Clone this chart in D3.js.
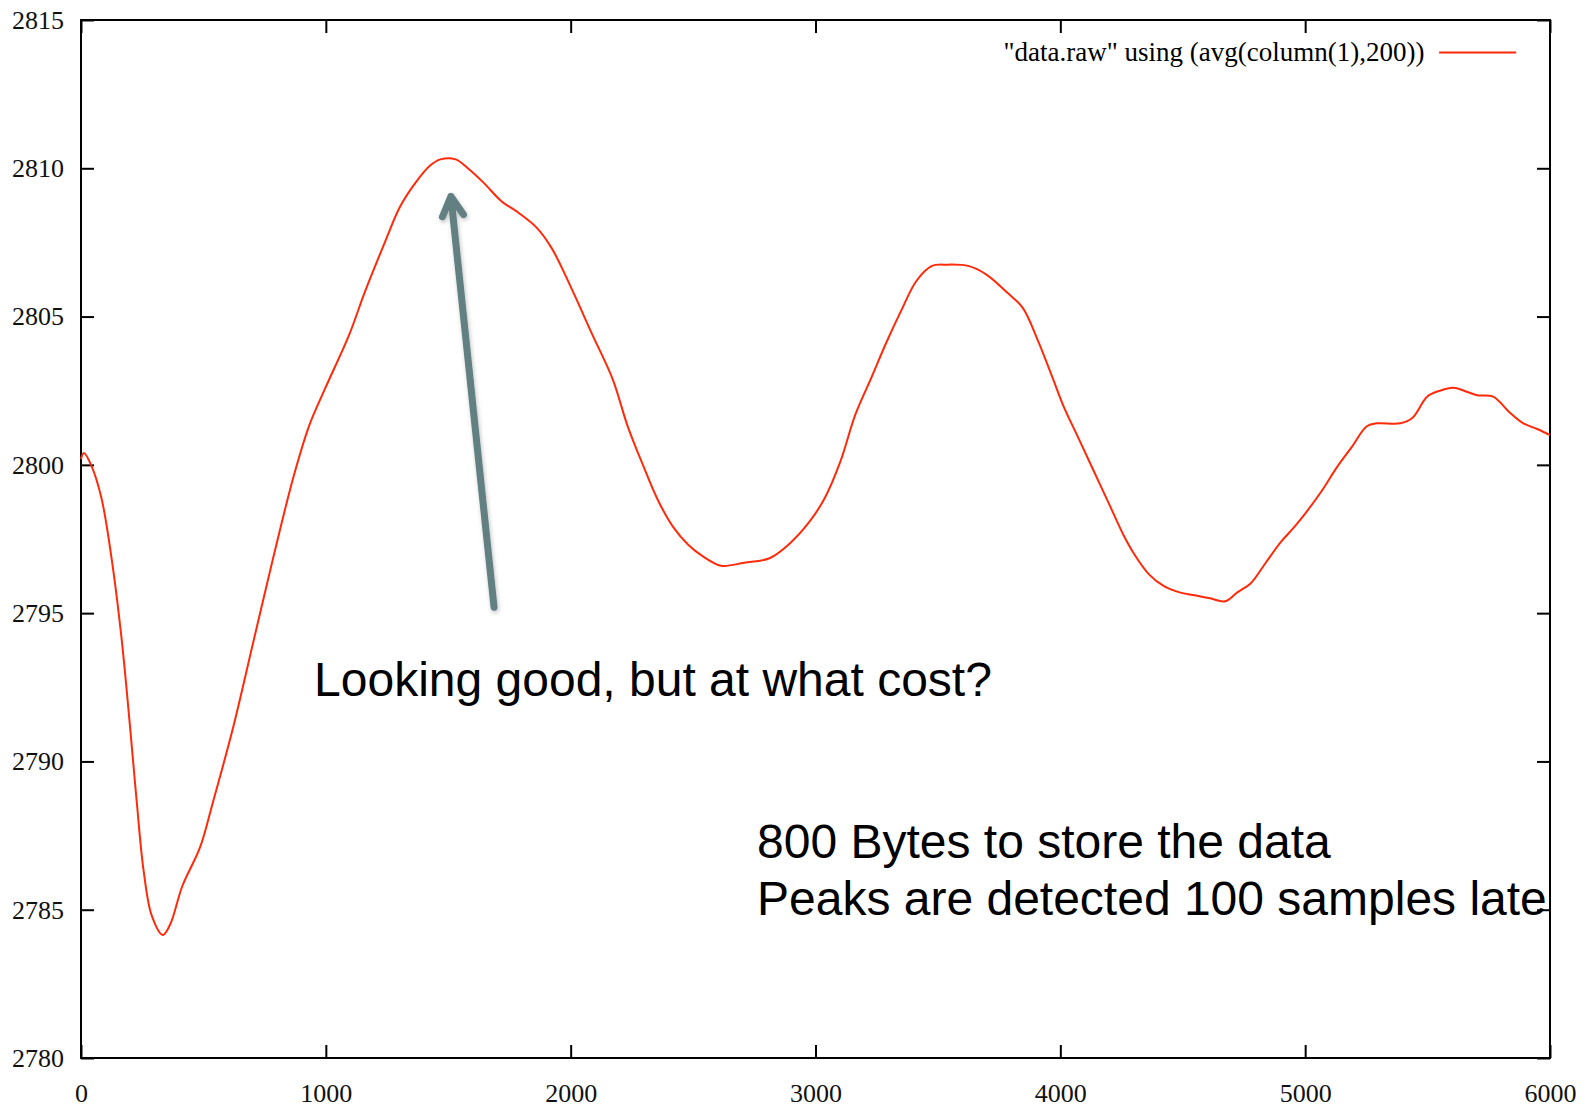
<!DOCTYPE html>
<html>
<head>
<meta charset="utf-8">
<script src="https://cdn.jsdelivr.net/npm/d3@7"></script>
<style>
  body { margin: 0; background: #fff; }
  svg { display: block; }
  .tick text { font-family: "Liberation Serif", "Times New Roman", serif; font-size: 26px; fill: #111; }
  .note { font-family: "Liberation Sans", Arial, Helvetica, sans-serif; font-size: 48px; fill: #000; }
</style>
</head>
<body>
<svg id="chart"></svg>
<script>
// sample index (x) and moving-average value (y)
const sampleX = [0, 12, 41, 83, 124, 165, 200, 227, 256, 289, 334, 364, 414, 486, 538, 620, 703, 786, 868, 931, 993,
  1096, 1158, 1241, 1303, 1365, 1427, 1468, 1530, 1580, 1646, 1716, 1787, 1861, 1923, 2006, 2088, 2171, 2233, 2295,
  2357, 2419, 2481, 2543, 2614, 2709, 2812, 2895, 2977, 3039, 3101, 3163, 3226, 3288, 3350, 3412, 3474, 3536, 3627,
  3701, 3784, 3846, 3908, 3970, 4012, 4074, 4136, 4198, 4260, 4301, 4363, 4425, 4487, 4549, 4611, 4673, 4723, 4777,
  4839, 4901, 4955, 5004, 5066, 5128, 5190, 5252, 5294, 5388, 5440, 5498, 5550, 5605, 5666, 5702, 5768, 5831, 5891, 5950, 6000];
const avgValue = [2800.2, 2800.4, 2800.0, 2798.9, 2796.9, 2794.2, 2791.2, 2788.7, 2786.3, 2784.8, 2784.15, 2784.5, 2785.8,
  2787.1, 2788.6, 2791.1, 2794.0, 2796.9, 2799.6, 2801.3, 2802.5,
  2804.4, 2805.8, 2807.5, 2808.7, 2809.5, 2810.1, 2810.3, 2810.3, 2810.0, 2809.5, 2808.9, 2808.5, 2808.0, 2807.3,
  2805.9, 2804.4, 2802.9, 2801.3, 2800.0,
  2798.8, 2797.9, 2797.3, 2796.9, 2796.6, 2796.7, 2796.85, 2797.35, 2798.1, 2798.9, 2800.1, 2801.7, 2802.9, 2804.1,
  2805.2, 2806.2, 2806.7, 2806.75, 2806.7,
  2806.4, 2805.8, 2805.3, 2804.2, 2802.9, 2802.0, 2800.9, 2799.8, 2798.7, 2797.6, 2797.0, 2796.3, 2795.9, 2795.7,
  2795.6, 2795.5, 2795.4, 2795.7, 2796.0,
  2796.7, 2797.4, 2797.9, 2798.4, 2799.1, 2799.9, 2800.6, 2801.3, 2801.4, 2801.4, 2801.6, 2802.3, 2802.5, 2802.6,
  2802.45, 2802.35, 2802.3, 2801.8, 2801.4, 2801.2, 2801.0];

const xTicks = [0, 1000, 2000, 3000, 4000, 5000, 6000];
const yTicks = [2780, 2785, 2790, 2795, 2800, 2805, 2810, 2815];
const legendLabel = '"data.raw" using (avg(column(1),200))';
const arrowNote = "Looking good, but at what cost?";
const costNotes = ["800 Bytes to store the data", "Peaks are detected 100 samples late"];

const width = 1587, height = 1108;
const margin = { top: 20, right: 37, bottom: 50, left: 81 };
const lineColor = "#ff2a0a";
const arrowColor = "#627f82";

const svg = d3.select("#chart").attr("width", width).attr("height", height);

const x = d3.scaleLinear().domain([0, 6000]).range([margin.left, width - margin.right]);
const y = d3.scaleLinear().domain([2780, 2815]).range([height - margin.bottom, margin.top]);

// inward ticks on all four sides, labels only left/bottom
const tickLen = 13;
svg.append("g")
  .attr("transform", `translate(0,${y(2780)})`)
  .call(d3.axisBottom(x).tickValues(xTicks).tickSize(-tickLen).tickPadding(26).tickFormat(d3.format("d")));
svg.append("g")
  .attr("transform", `translate(0,${y(2815)})`)
  .call(d3.axisTop(x).tickValues(xTicks).tickSize(-tickLen).tickFormat(""));
svg.append("g")
  .attr("transform", `translate(${x(0)},0)`)
  .call(d3.axisLeft(y).tickValues(yTicks).tickSize(-tickLen).tickPadding(17).tickFormat(d3.format("d")));
svg.append("g")
  .attr("transform", `translate(${x(6000)},0)`)
  .call(d3.axisRight(y).tickValues(yTicks).tickSize(-tickLen).tickFormat(""));

svg.selectAll(".domain").remove();
svg.selectAll(".tick line").attr("stroke", "#000").attr("stroke-width", 2);

svg.append("rect")
  .attr("x", x(0)).attr("y", y(2815))
  .attr("width", x(6000) - x(0)).attr("height", y(2780) - y(2815))
  .attr("fill", "none").attr("stroke", "#000").attr("stroke-width", 2);

// the averaged series
const points = sampleX.map((d, i) => [d, avgValue[i]]);
svg.append("path")
  .datum(points)
  .attr("fill", "none")
  .attr("stroke", lineColor)
  .attr("stroke-width", 2)
  .attr("d", d3.line().x(d => x(d[0])).y(d => y(d[1])).curve(d3.curveCatmullRom.alpha(0.5)));

// key
const legend = svg.append("g").attr("transform", `translate(0,${y(2813.9)})`);
legend.append("text")
  .attr("x", x(5487)).attr("dy", "0.32em")
  .attr("text-anchor", "end")
  .style("font-family", '"Liberation Serif", "Times New Roman", serif')
  .style("font-size", "27px")
  .text(legendLabel);
legend.append("line")
  .attr("x1", x(5547)).attr("x2", x(5862))
  .attr("stroke", lineColor).attr("stroke-width", 2);

// annotation arrow
const defs = svg.append("defs");
defs.append("filter").attr("id", "shadow")
  .attr("x", "-50%").attr("y", "-10%").attr("width", "200%").attr("height", "120%")
  .append("feDropShadow")
  .attr("dx", 1).attr("dy", 2).attr("stdDeviation", 2)
  .attr("flood-color", "#000").attr("flood-opacity", 0.25);

const tail = [x(1687), y(2795.2)];
const tip = [x(1511), y(2809.05)];
const ang = Math.atan2(tail[1] - tip[1], tail[0] - tip[0]);
const armLen = 22, spread = 0.5;
const armA = [tip[0] + armLen * Math.cos(ang + spread), tip[1] + armLen * Math.sin(ang + spread)];
const armB = [tip[0] + armLen * Math.cos(ang - spread), tip[1] + armLen * Math.sin(ang - spread)];

svg.append("path")
  .attr("d", `M${tail}L${tip}M${armA}L${tip}L${armB}`)
  .attr("fill", "none")
  .attr("stroke", arrowColor)
  .attr("stroke-width", 7)
  .attr("stroke-linecap", "round")
  .attr("stroke-linejoin", "round")
  .attr("filter", "url(#shadow)");

svg.append("text")
  .attr("class", "note")
  .attr("x", x(952)).attr("y", y(2792.2))
  .text(arrowNote);

svg.append("text")
  .attr("class", "note")
  .attr("x", x(2761)).attr("y", y(2786.75))
  .selectAll("tspan")
  .data(costNotes)
  .join("tspan")
  .attr("x", x(2761))
  .attr("dy", (d, i) => i === 0 ? 0 : 57)
  .text(d => d);
</script>
</body>
</html>
